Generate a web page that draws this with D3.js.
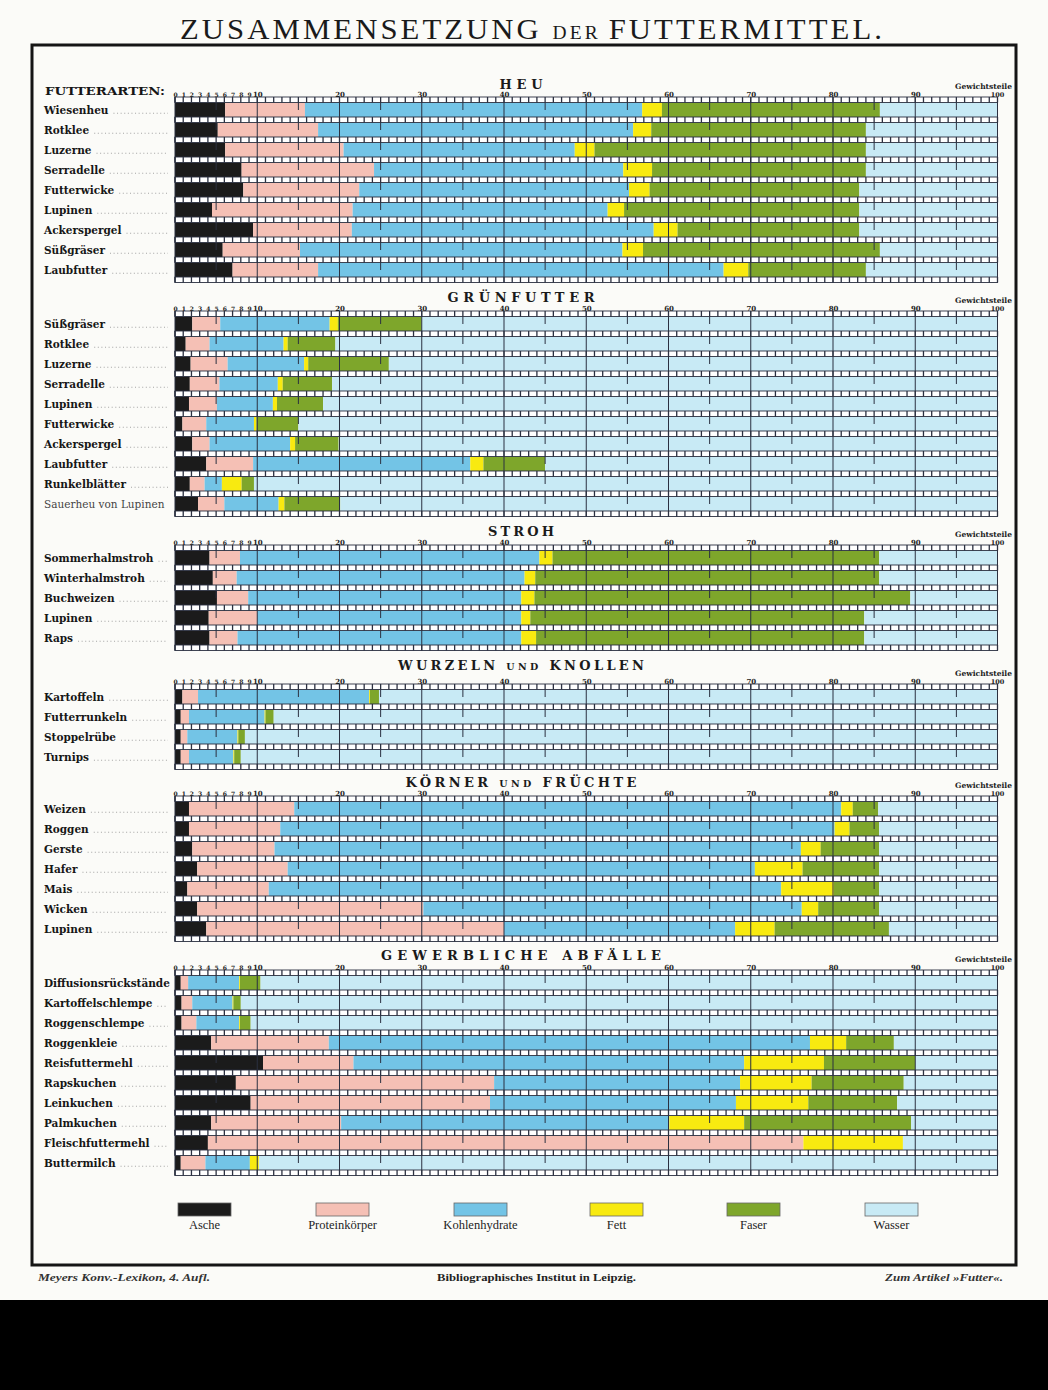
<!DOCTYPE html>
<html>
<head>
<meta charset="utf-8">
<script src="https://cdnjs.cloudflare.com/ajax/libs/d3/7.8.5/d3.min.js"></script>
<style>
  body { margin: 0; background: #fbfbf8; }
  svg { display: block; }
</style>
</head>
<body>
<div id="chart"></div>
<script>
// Zusammensetzung der Futtermittel -- Gewichtsteile in 100 Teilen

var keys = ["asche", "protein", "kohlen", "fett", "faser", "wasser"];
var legendLabels = ["Asche", "Proteinkörper", "Kohlenhydrate", "Fett", "Faser", "Wasser"];

// HEU
var heuNames   = ["Wiesenheu", "Rotklee", "Luzerne", "Serradelle", "Futterwicke", "Lupinen", "Ackerspergel", "Süßgräser", "Laubfutter"];
var heuAsche   = [6.1, 5.2, 6.1, 8.1, 8.3, 4.5, 9.5, 5.8, 7.0];
var heuProtein = [9.7, 12.2, 14.4, 16.1, 14.1, 17.1, 12.0, 9.4, 10.4];
var heuKohlen  = [41.0, 38.3, 28.1, 30.3, 32.8, 31.0, 36.7, 39.2, 49.3];
var heuFett    = [2.4, 2.2, 2.4, 3.5, 2.5, 2.0, 2.9, 2.5, 3.0];
var heuFaser   = [26.5, 26.1, 33.0, 26.0, 25.5, 28.6, 22.1, 28.8, 14.3];
var heuWasser  = [14.3, 16.0, 16.0, 16.0, 16.8, 16.8, 16.8, 14.3, 16.0];

// GRÜNFUTTER
var gruenNames   = ["Süßgräser", "Rotklee", "Luzerne", "Serradelle", "Lupinen", "Futterwicke", "Ackerspergel", "Laubfutter", "Runkelblätter", "Sauerheu von Lupinen"];
var gruenAsche   = [2.1, 1.3, 1.9, 1.8, 1.7, 0.9, 2.1, 3.8, 1.8, 2.8];
var gruenProtein = [3.4, 2.9, 4.5, 3.6, 3.4, 2.9, 2.1, 5.7, 1.8, 3.2];
var gruenKohlen  = [13.3, 9.0, 9.3, 7.1, 6.8, 5.8, 9.8, 26.4, 2.1, 6.6];
var gruenFett    = [1.0, 0.5, 0.5, 0.6, 0.5, 0.3, 0.6, 1.6, 2.4, 0.7];
var gruenFaser   = [10.2, 5.8, 9.8, 6.0, 5.6, 5.1, 5.3, 7.5, 1.5, 6.8];
var gruenWasser  = [70.0, 80.5, 74.0, 80.9, 82.0, 85.0, 80.1, 55.0, 90.4, 79.9];

// STROH
var strohNames   = ["Sommerhalmstroh", "Winterhalmstroh", "Buchweizen", "Lupinen", "Raps"];
var strohAsche   = [4.2, 4.6, 5.1, 4.1, 4.2];
var strohProtein = [3.7, 2.9, 3.8, 5.9, 3.4];
var strohKohlen  = [36.4, 35.0, 33.2, 32.1, 34.5];
var strohFett    = [1.6, 1.3, 1.6, 1.1, 1.8];
var strohFaser   = [39.7, 41.8, 45.7, 40.6, 39.9];
var strohWasser  = [14.4, 14.4, 10.6, 16.2, 16.2];

// WURZELN UND KNOLLEN
var wurzelNames   = ["Kartoffeln", "Futterrunkeln", "Stoppelrübe", "Turnips"];
var wurzelAsche   = [0.9, 0.7, 0.7, 0.7];
var wurzelProtein = [1.9, 1.0, 0.8, 1.0];
var wurzelKohlen  = [20.8, 9.2, 6.1, 5.4];
var wurzelFett    = [0.1, 0.1, 0.1, 0.1];
var wurzelFaser   = [1.1, 1.0, 0.8, 0.8];
var wurzelWasser  = [75.2, 88.0, 91.5, 92.0];

// KÖRNER UND FRÜCHTE
var koernerNames   = ["Weizen", "Roggen", "Gerste", "Hafer", "Mais", "Wicken", "Lupinen"];
var koernerAsche   = [1.7, 1.7, 2.1, 2.7, 1.5, 2.7, 3.8];
var koernerProtein = [12.8, 11.1, 10.0, 11.0, 9.9, 27.5, 36.2];
var koernerKohlen  = [66.5, 67.4, 64.0, 56.8, 62.3, 46.0, 28.1];
var koernerFett    = [1.4, 1.8, 2.4, 5.8, 6.4, 2.0, 4.8];
var koernerFaser   = [3.1, 3.6, 7.1, 9.3, 5.5, 7.4, 13.9];
var koernerWasser  = [14.5, 14.4, 14.4, 14.4, 14.4, 14.4, 13.2];

// GEWERBLICHE ABFÄLLE
var abfallNames   = ["Diffusionsrückstände", "Kartoffelschlempe", "Roggenschlempe", "Roggenkleie", "Reisfuttermehl", "Rapskuchen", "Leinkuchen", "Palmkuchen", "Fleischfuttermehl", "Buttermilch"];
var abfallAsche   = [0.7, 0.8, 0.8, 4.4, 10.7, 7.4, 9.2, 4.4, 4.0, 0.7];
var abfallProtein = [0.9, 1.3, 1.8, 14.3, 11.0, 31.4, 29.1, 15.8, 72.4, 3.0];
var abfallKohlen  = [6.2, 4.9, 5.2, 58.5, 47.5, 29.9, 29.9, 39.9, 0, 5.4];
var abfallFett    = [0.1, 0.1, 0.1, 4.4, 9.7, 8.7, 8.8, 9.1, 12.1, 1.1];
var abfallFaser   = [2.5, 0.9, 1.3, 5.8, 11.1, 11.2, 10.8, 20.3, 0, 0];
var abfallWasser  = [89.6, 92.0, 90.8, 12.6, 10.0, 11.4, 12.2, 10.5, 11.5, 89.8];

var unitTicks = [0, 1, 2, 3, 4, 5, 6, 7, 8, 9, 10, 20, 30, 40, 50, 60, 70, 80, 90];

var sections = [
  { title: [["HEU", 0]], names: heuNames, asche: heuAsche, protein: heuProtein, kohlen: heuKohlen, fett: heuFett, faser: heuFaser, wasser: heuWasser },
  { title: [["GRÜNFUTTER", 0]], names: gruenNames, asche: gruenAsche, protein: gruenProtein, kohlen: gruenKohlen, fett: gruenFett, faser: gruenFaser, wasser: gruenWasser },
  { title: [["STROH", 0]], names: strohNames, asche: strohAsche, protein: strohProtein, kohlen: strohKohlen, fett: strohFett, faser: strohFaser, wasser: strohWasser },
  { title: [["WURZELN ", 0], ["UND", 1], [" KNOLLEN", 0]], names: wurzelNames, asche: wurzelAsche, protein: wurzelProtein, kohlen: wurzelKohlen, fett: wurzelFett, faser: wurzelFaser, wasser: wurzelWasser },
  { title: [["KÖRNER ", 0], ["UND", 1], [" FRÜCHTE", 0]], names: koernerNames, asche: koernerAsche, protein: koernerProtein, kohlen: koernerKohlen, fett: koernerFett, faser: koernerFaser, wasser: koernerWasser },
  { title: [["GEWERBLICHE ABFÄLLE", 0]], names: abfallNames, asche: abfallAsche, protein: abfallProtein, kohlen: abfallKohlen, fett: abfallFett, faser: abfallFaser, wasser: abfallWasser }
];

// layout
var sectionTops   = [97, 311, 545, 684, 796, 970];
var sectionTitleY = [89, 302, 536, 670, 787, 960];
var titleWidths   = [43, 147, 66, 246, 231, 280];

var colors = {
  asche: "#1b1b1b", protein: "#f5c0b5", kohlen: "#73c4e6",
  fett: "#f8ea10", faser: "#7ea62b", wasser: "#c8eaf5"
};
var lineColor = "#2b3040";
var serif = "'DejaVu Serif', serif";
var PITCH = 20, STRIP = 5.5;

var svgWidth = 1048, svgHeight = 1390;
var svg = d3.select("#chart").append("svg")
  .attr("width", svgWidth)
  .attr("height", svgHeight);

svg.append("rect").attr("width", svgWidth).attr("height", svgHeight).attr("fill", "#fbfbf8");

var x = d3.scaleLinear().domain([0, 100]).range([175, 997.5]);

// main title
var title = svg.append("text")
  .attr("x", 180).attr("y", 39)
  .attr("textLength", 705).attr("lengthAdjust", "spacingAndGlyphs")
  .style("font-family", "'Liberation Serif', serif")
  .style("font-size", "30px")
  .style("letter-spacing", "3px")
  .style("fill", "#1a1a1a");
title.append("tspan").text("ZUSAMMENSETZUNG ");
title.append("tspan").style("font-size", "19px").text("DER ");
title.append("tspan").text("FUTTERMITTEL.");

// frame
svg.append("rect")
  .attr("x", 32).attr("y", 45).attr("width", 984).attr("height", 1220)
  .attr("fill", "none").attr("stroke", "#151515").attr("stroke-width", 3);

sections.forEach(function(sec, si) {
  var top = sectionTops[si];
  var n = sec.names.length;
  var g = svg.append("g");

  var table = sec.names.map(function(name, i) {
    var row = { name: name };
    keys.forEach(function(k) { row[k] = sec[k][i]; });
    return row;
  });
  var series = d3.stack().keys(keys)(table);

  var y = d3.scaleBand()
    .domain(sec.names)
    .range([top + STRIP, top + PITCH * n])
    .paddingInner(STRIP / PITCH)
    .paddingOuter(0);

  // section title
  var t = g.append("text")
    .attr("x", 521).attr("y", sectionTitleY[si])
    .attr("text-anchor", "middle")
    .attr("textLength", titleWidths[si]).attr("lengthAdjust", "spacing")
    .style("font-family", serif).style("font-weight", "700")
    .style("font-size", "13px").style("fill", "#1a1a1a");
  sec.title.forEach(function(p) {
    t.append("tspan").style("font-size", p[1] ? "9.5px" : "13px").text(p[0]);
  });

  // stacked bars
  g.selectAll("g.layer")
    .data(series)
    .join("g")
    .attr("class", "layer")
    .attr("fill", function(d) { return colors[d.key]; })
    .selectAll("rect")
    .data(function(d) { return d; })
    .join("rect")
    .attr("x", function(d) { return x(d[0]); })
    .attr("width", function(d) { return Math.max(0, x(d[1]) - x(d[0])); })
    .attr("y", function(d) { return y(d.data.name); })
    .attr("height", y.bandwidth());

  // ruler strips between the rows
  var strips = d3.range(n + 1).map(function(i) { return top + PITCH * i; });
  var sg = g.selectAll("g.strip").data(strips).join("g").attr("class", "strip");
  sg.append("rect")
    .attr("x", x(0)).attr("width", x(100) - x(0))
    .attr("y", function(d) { return d; }).attr("height", STRIP)
    .attr("fill", "#ffffff").attr("stroke", lineColor).attr("stroke-width", 0.9);
  sg.selectAll("line")
    .data(function(d) { return d3.range(0, 101).map(function(u) { return [u, d]; }); })
    .join("line")
    .attr("x1", function(d) { return x(d[0]); }).attr("x2", function(d) { return x(d[0]); })
    .attr("y1", function(d) { return d[1]; }).attr("y2", function(d) { return d[1] + STRIP; })
    .attr("stroke", lineColor).attr("stroke-width", 1.3);

  // full lines at every ten
  g.selectAll("line.ten")
    .data(d3.range(0, 101, 10))
    .join("line")
    .attr("class", "ten")
    .attr("x1", function(d) { return x(d); }).attr("x2", function(d) { return x(d); })
    .attr("y1", top).attr("y2", top + PITCH * n + STRIP)
    .attr("stroke", lineColor).attr("stroke-width", 1);

  // short ticks at the fives
  var fives = [];
  sec.names.forEach(function(name) {
    d3.range(5, 100, 10).forEach(function(v) { fives.push([v, y(name)]); });
  });
  g.selectAll("line.five")
    .data(fives)
    .join("line")
    .attr("class", "five")
    .attr("x1", function(d) { return x(d[0]); }).attr("x2", function(d) { return x(d[0]); })
    .attr("y1", function(d) { return d[1]; }).attr("y2", function(d) { return d[1] + 7.5; })
    .attr("stroke", lineColor).attr("stroke-width", 1);

  // scale numbers
  var axis = g.append("g")
    .attr("transform", "translate(0," + (top - 0.5) + ")")
    .call(d3.axisTop(x).tickValues(unitTicks).tickSize(0).tickPadding(0).tickFormat(d3.format("d")));
  axis.select(".domain").remove();
  axis.selectAll("text")
    .style("font-family", serif).style("font-weight", "700")
    .style("font-size", function(d) { return d < 10 ? "6px" : "7px"; })
    .style("fill", "#222");

  g.append("text")
    .attr("x", 1012).attr("y", top - 8.5)
    .attr("text-anchor", "end")
    .style("font-family", serif).style("font-weight", "700")
    .style("font-size", "7.5px").style("fill", "#222")
    .text("Gewichtsteile");
  g.append("text")
    .attr("x", x(100)).attr("y", top - 0.5)
    .attr("text-anchor", "middle")
    .style("font-family", serif).style("font-weight", "700")
    .style("font-size", "6.5px").style("fill", "#222")
    .text("100");

  // row labels with dotted leaders
  var labels = g.selectAll("g.label").data(sec.names).join("g").attr("class", "label");
  labels.append("text")
    .attr("x", 44)
    .attr("y", function(d) { return y(d) + y.bandwidth() / 2 + 3.8; })
    .style("font-family", serif)
    .style("font-weight", function(d) { return d === "Sauerheu von Lupinen" ? "400" : "700"; })
    .style("font-size", "10.5px")
    .style("fill", function(d) { return d === "Sauerheu von Lupinen" ? "#444" : "#161616"; })
    .text(function(d) { return d; })
    .each(function() {
      var w = this.getComputedTextLength();
      if (w > 128) {
        d3.select(this).attr("textLength", 128).attr("lengthAdjust", "spacingAndGlyphs");
      }
    });
  labels.each(function(d) {
    var el = d3.select(this);
    var w = Math.min(128, el.select("text").node().getComputedTextLength());
    var start = 44 + w + 5;
    if (start < 166) {
      el.append("line")
        .attr("x1", start).attr("x2", 168)
        .attr("y1", y(d) + y.bandwidth() / 2 + 3.5).attr("y2", y(d) + y.bandwidth() / 2 + 3.5)
        .attr("stroke", "#9a9a9a").attr("stroke-width", 0.9)
        .attr("stroke-dasharray", "1 2.6");
    }
  });

  if (si === 0) {
    g.append("text")
      .attr("x", 45).attr("y", top - 2)
      .attr("textLength", 120).attr("lengthAdjust", "spacingAndGlyphs")
      .style("font-family", serif).style("font-weight", "700")
      .style("font-size", "11px").style("fill", "#161616")
      .text("FUTTERARTEN:");
  }
});

// legend
var legendX = [178, 316, 454, 590, 727, 865];
var legend = svg.selectAll("g.legend")
  .data(keys)
  .join("g")
  .attr("class", "legend")
  .attr("transform", function(d, i) { return "translate(" + legendX[i] + ",1203)"; });
legend.append("rect")
  .attr("width", 53).attr("height", 13)
  .attr("fill", function(d) { return colors[d]; })
  .attr("stroke", "#666").attr("stroke-width", 0.8);
legend.append("text")
  .attr("x", 26.5).attr("y", 25.5)
  .attr("text-anchor", "middle")
  .style("font-family", "'Liberation Serif', serif")
  .style("font-size", "12.5px").style("fill", "#1e1e1e")
  .text(function(d, i) { return legendLabels[i]; });

// footer
svg.append("text")
  .attr("x", 38).attr("y", 1281)
  .attr("textLength", 172).attr("lengthAdjust", "spacingAndGlyphs")
  .style("font-family", "'Liberation Serif', serif").style("font-style", "italic").style("font-weight", "700")
  .style("font-size", "10.5px").style("fill", "#333")
  .text("Meyers Konv.-Lexikon, 4. Aufl.");
svg.append("text")
  .attr("x", 437).attr("y", 1281)
  .attr("textLength", 199).attr("lengthAdjust", "spacingAndGlyphs")
  .style("font-family", "'Liberation Serif', serif").style("font-weight", "700")
  .style("font-size", "11px").style("fill", "#222")
  .text("Bibliographisches Institut in Leipzig.");
svg.append("text")
  .attr("x", 885).attr("y", 1281)
  .attr("textLength", 118).attr("lengthAdjust", "spacingAndGlyphs")
  .style("font-family", "'Liberation Serif', serif").style("font-style", "italic").style("font-weight", "700")
  .style("font-size", "10.5px").style("fill", "#333")
  .text("Zum Artikel »Futter«.");

// dark band at the foot of the picture
svg.append("rect")
  .attr("x", 0).attr("y", 1300).attr("width", svgWidth).attr("height", 90)
  .attr("fill", "#000");
</script>
</body>
</html>
